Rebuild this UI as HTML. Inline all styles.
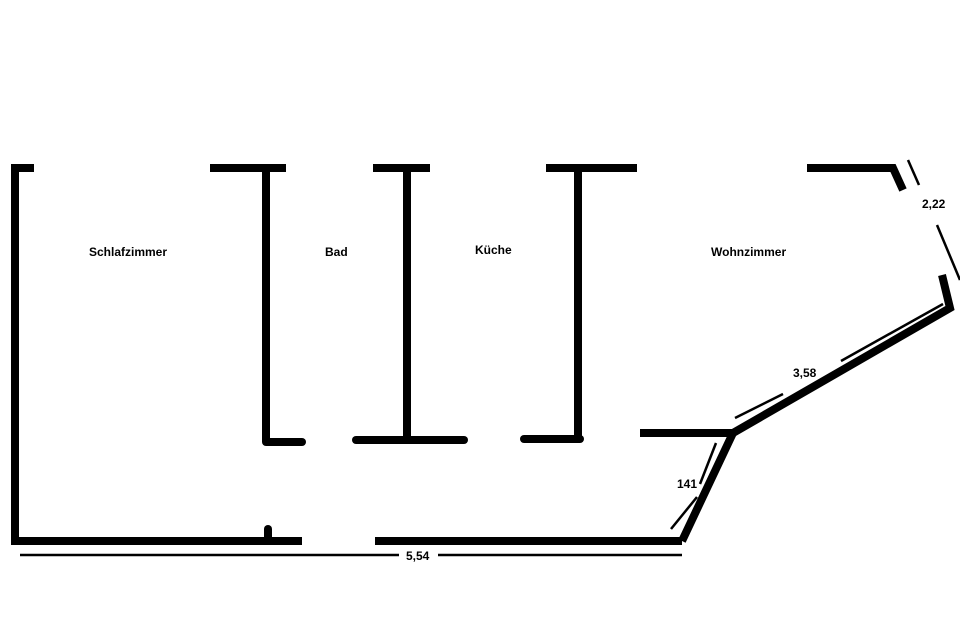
<!DOCTYPE html>
<html><head><style>body{margin:0;background:#fff}svg{display:block}text{font-family:"Liberation Sans",sans-serif;font-weight:bold;font-size:12px;fill:#000}</style></head>
<body>
<svg width="960" height="640" viewBox="0 0 960 640">
<g stroke="#000" stroke-width="8" fill="none">
<polyline points="34,168 15,168 15,541 302,541"/>
<line x1="375" y1="541" x2="682" y2="541"/>
<line x1="210" y1="168" x2="286" y2="168"/>
<line x1="373" y1="168" x2="430" y2="168"/>
<line x1="546" y1="168" x2="637" y2="168"/>
<polyline points="807,168 893,168 903,190"/>
<line x1="266" y1="168" x2="266" y2="442"/>
<line x1="407" y1="168" x2="407" y2="440"/>
<line x1="578" y1="168" x2="578" y2="439"/>
<polyline points="640,433 733,433 682,541"/>
<polyline points="733,433 950,308 942,275"/>
</g>
<g stroke="#000" stroke-width="8" stroke-linecap="round">
<line x1="266" y1="442" x2="302" y2="442"/>
<line x1="356" y1="440" x2="464" y2="440"/>
<line x1="524" y1="439" x2="580" y2="439"/>
<line x1="268" y1="529" x2="268" y2="541"/>
</g>
<g stroke="#000" stroke-width="2.5">
<line x1="20" y1="555" x2="399" y2="555"/>
<line x1="438" y1="555" x2="682" y2="555"/>
<line x1="908" y1="160" x2="919" y2="185"/>
<line x1="937" y1="225" x2="960" y2="280"/>
<line x1="735" y1="418" x2="783" y2="394"/>
<line x1="841" y1="361" x2="943" y2="304"/>
<line x1="716" y1="443" x2="700" y2="484"/>
<line x1="697" y1="497" x2="671" y2="529"/>
</g>
<text x="89" y="256">Schlafzimmer</text>
<text x="325" y="256">Bad</text>
<text x="475" y="254">Küche</text>
<text x="711" y="256">Wohnzimmer</text>
<text x="922" y="208">2,22</text>
<text x="793" y="377">3,58</text>
<text x="677" y="488">141</text>
<text x="406" y="560">5,54</text>
</svg>
</body></html>
